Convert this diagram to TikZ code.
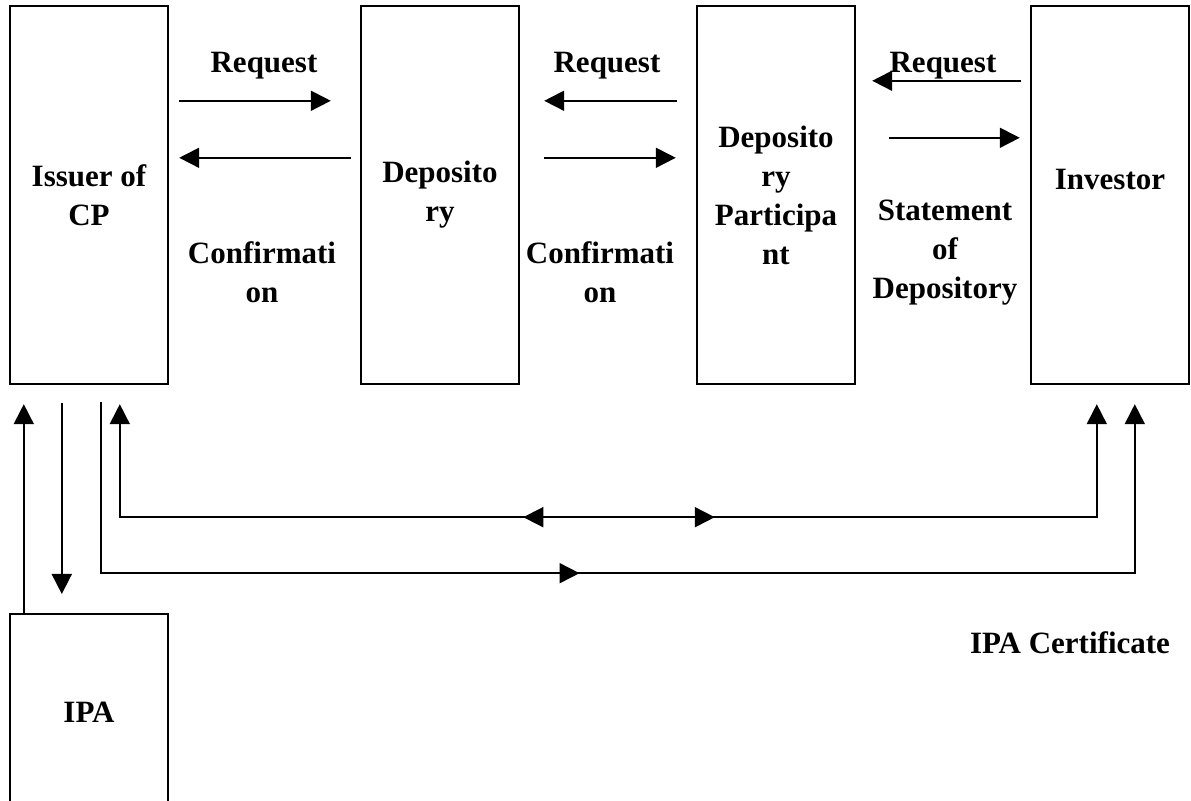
\documentclass[tikz,border=0pt]{standalone}
\usepackage{fontspec}
\setmainfont{Liberation Serif}
\usetikzlibrary{arrows.meta,calc,positioning}

\newcommand{\lblfont}{\fontsize{15.5}{19.5}\selectfont\bfseries}
\tikzset{
  box/.style={draw,line width=1.2pt,minimum width=79pt,minimum height=189pt,inner sep=0pt,align=center,font=\lblfont},
  lbl/.style={align=center,inner sep=0pt,font=\lblfont},
  arr/.style={line width=0.9pt,-{Triangle[length=10pt,width=10pt]}},
  biarr/.style={line width=0.9pt,{Triangle[length=10pt,width=10pt]}-{Triangle[length=10pt,width=10pt]}},
}

\begin{document}
\begin{tikzpicture}[x=0.5pt,y=-0.5pt]
\useasboundingbox (0,0) rectangle (1191,801);
\clip (0,0) rectangle (1191,801);

% boxes
\node[box] (issuer) at (89,195) {Issuer of\\CP};
\node[box,right=95.3pt of issuer] (dep) {Deposito\\ry};
\node[box,right=87.8pt of dep] (dp) {Deposito\\ry\\Participa\\nt};
\node[box,right=86.8pt of dp] (inv) {};
\node[lbl] (invtxt) at ($(inv.center)+(0,-15)$) {Investor};
\node[box,minimum height=125pt,anchor=north] (ipa) at (89,613) {};
\node[lbl] (ipatxt) at (89,712) {IPA};

% labels between the boxes
\node[lbl] (req1) at (264,66) {Request};
\node[lbl] (conf1) at (262,272) {Confirmati\\on};
\node[lbl] (req2) at (607,66) {Request};
\node[lbl] (conf2) at (600,272) {Confirmati\\on};
\node[lbl] (req3) at (943,66) {Request};
\node[lbl] (stmt) at (945,253) {Statement\\of\\Depository};
\node[lbl] (ipacert) at (1070,643) {IPA Certificate};

% top arrows
\draw[arr] ($(issuer.north east)+(10,96)$) -- ($(dep.north west)+(-29,96)$);
\draw[arr] ($(dep.north west)+(-9,153)$) -- ($(issuer.north east)+(10,153)$);
\draw[arr] ($(dp.north west)+(-19,96)$) -- ($(dep.north east)+(24,96)$);
\draw[arr] ($(dep.north east)+(24,153)$) -- ($(dp.north west)+(-20,153)$);
\draw[arr] ($(inv.north west)+(-9,76)$) -- ($(dp.north east)+(16,76)$);
\draw[arr] ($(dp.north east)+(33,133)$) -- ($(inv.north west)+(-10,133)$);

% issuer <-> IPA
\draw[arr] ($(ipa.north west)+(15,1)$) -- ($(issuer.south west)+(15,19)$);
\draw[arr] ($(issuer.south west)+(53,18)$) -- ($(ipa.north west)+(53,-19)$);

% issuer <-> investor
\path ($(issuer.south west)+(111,132)$) coordinate (bendA)
      ($(inv.south west)+(67,132)$) coordinate (bendB)
      ($(issuer.south west)+(92,188)$) coordinate (bendC)
      ($(inv.south west)+(105,188)$) coordinate (bendD);
\draw[biarr] ($(issuer.south west)+(111,19)$) -- (bendA) -- (bendB) -- ($(inv.south west)+(67,19)$);
\draw[biarr] ($(bendA)!0.413!(bendB)$) -- ($(bendA)!0.609!(bendB)$);
\draw[arr] ($(issuer.south west)+(92,17)$) -- (bendC) -- (bendD) -- ($(inv.south west)+(105,19)$);
\draw[arr] ($(bendC)!0.444!(bendD)$) -- ($(bendC)!0.463!(bendD)$);

\end{tikzpicture}
\end{document}
